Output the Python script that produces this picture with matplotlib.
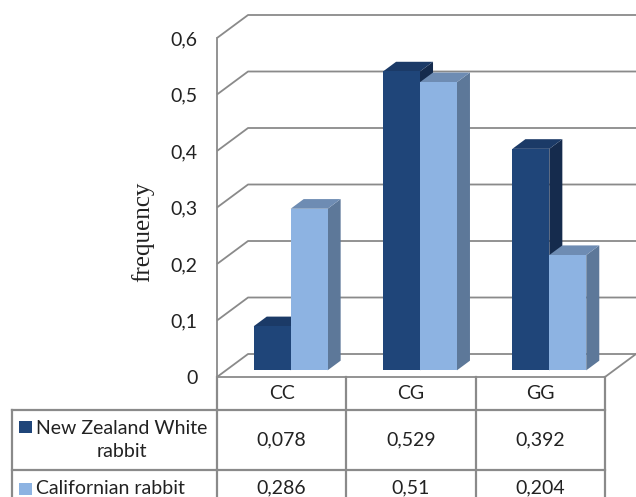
import numpy as np
import matplotlib
matplotlib.use("Agg")
import matplotlib.pyplot as plt
from matplotlib.patches import Polygon, Rectangle
from matplotlib.lines import Line2D
from matplotlib import transforms

# ---- data ----
categories = ["CC", "CG", "GG"]
series_names = ["New Zealand White\nrabbit", "Californian rabbit"]
nz_white = [0.078, 0.529, 0.392]
californian = [0.286, 0.51, 0.204]
y_ticks = [0.0, 0.1, 0.2, 0.3, 0.4, 0.5, 0.6]
y_label = "frequency"

series_values = [nz_white, californian]

# face colours per series: front, top, side
front_cols = ["#1f4579", "#8db3e2"]
top_cols = ["#1b3a67", "#6e8cb3"]
side_cols = ["#152b4d", "#5d7899"]
grid_col = "#8a8a8a"

W, H = 636, 497
fig = plt.figure(figsize=(W / 100, H / 100), dpi=100)

# plotting box in pixels (front plane + back wall depth)
left_px, right_px, top_px, bottom_px = 217, 636, 15, 377
ax = fig.add_axes([left_px / W, (H - bottom_px) / H,
                   (right_px - left_px) / W, (bottom_px - top_px) / H])

ncat = len(categories)
ymax = y_ticks[-1]
DX = 0.24       # wall depth in category units
DY = 0.0407     # wall depth in value units
ax.set_xlim(0, ncat + DX)
ax.set_ylim(0, ymax + DY)
for s in ax.spines.values():
    s.set_visible(False)
ax.set_xticks([])
ax.set_yticks(y_ticks)
ax.set_yticklabels([("%g" % t).replace(".", ",") for t in y_ticks],
                   fontfamily="Lato", fontsize=14, color="#222222")
ax.tick_params(axis="y", length=0, pad=14)
ax.patch.set_visible(False)

lw = 1.3
# gridlines on side wall and back wall
for t in y_ticks:
    ax.plot([0, DX, ncat + DX], [t, t + DY, t + DY], color=grid_col, lw=lw,
            zorder=1, solid_capstyle="butt", clip_on=False)
# front vertical axis and floor edges
ax.plot([0, 0], [0, ymax], color=grid_col, lw=lw, zorder=1, clip_on=False)
ax.plot([0, ncat, ncat + DX], [0, 0, DY], color=grid_col, lw=lw, zorder=1,
        clip_on=False)

# 3-D columns
nser = len(series_values)
gap = 1.5
w = 1.0 / (nser + gap)
z0, z1 = 0.29, 0.71
for i in range(ncat):
    for j in range(nser):
        v = series_values[j][i]
        x0 = i + gap / 2 * w + j * w
        fx0, fx1 = x0 + z0 * DX, x0 + w + z0 * DX
        bx0, bx1 = x0 + z1 * DX, x0 + w + z1 * DX
        fy, by = z0 * DY, z1 * DY
        front = [(fx0, fy), (fx1, fy), (fx1, v + fy), (fx0, v + fy)]
        top = [(fx0, v + fy), (fx1, v + fy), (bx1, v + by), (bx0, v + by)]
        side = [(fx1, fy), (bx1, by), (bx1, v + by), (fx1, v + fy)]
        for pts, col in ((side, side_cols[j]), (top, top_cols[j]),
                         (front, front_cols[j])):
            ax.add_patch(Polygon(pts, closed=True, facecolor=col,
                                 edgecolor="none", zorder=3 + i * 2 + j))

# y-axis title
fig.text(143 / W, 1 - 232 / H, y_label, rotation=90, ha="center",
         va="center", fontfamily="Liberation Serif", fontsize=18,
         color="#222222")

# ---- data table ----
bt = transforms.blended_transform_factory(ax.transData, fig.transFigure)
ft = fig.transFigure
tbl_left = 12 / W
row_tops = [377, 410, 470]
row_bottom = 540


def fy_(p):
    return 1 - p / H


for k in range(ncat + 1):
    fig.add_artist(Line2D([k, k], [fy_(row_tops[0]), fy_(row_bottom)],
                          transform=bt, color=grid_col, lw=1.6))
for r in row_tops[1:]:
    fig.add_artist(Line2D([0, ncat], [fy_(r), fy_(r)], transform=bt,
                          color=grid_col, lw=1.6))
    fig.add_artist(Line2D([tbl_left, left_px / W], [fy_(r), fy_(r)],
                          transform=ft, color=grid_col, lw=1.6))
fig.add_artist(Line2D([tbl_left, tbl_left], [fy_(row_tops[1]), fy_(row_bottom)],
                      transform=ft, color=grid_col, lw=1.6))

txt_kw = dict(fontfamily="Lato", fontsize=14, color="#222222")
header_y = (row_tops[0] + row_tops[1]) / 2
for k, c in enumerate(categories):
    fig.text(k + 0.5, fy_(header_y), c, transform=bt, ha="center",
             va="center", **txt_kw)

row_centres = [440, 488]
key_tops = [421, 483]
for j in range(nser):
    for k in range(ncat):
        s = ("%g" % series_values[j][k]).replace(".", ",")
        fig.text(k + 0.5, fy_(row_centres[j]), s, transform=bt,
                 ha="center", va="center", **txt_kw)
    fig.add_artist(Rectangle((19 / W, fy_(key_tops[j] + 12)), 13 / W, 12 / H,
                             transform=ft, facecolor=front_cols[j],
                             edgecolor="none"))
    fig.text(36 / W, fy_(row_centres[j]), series_names[j], ha="left",
             va="center", multialignment="center", linespacing=1.4,
             **txt_kw)

fig.savefig("out.png", dpi=100)
